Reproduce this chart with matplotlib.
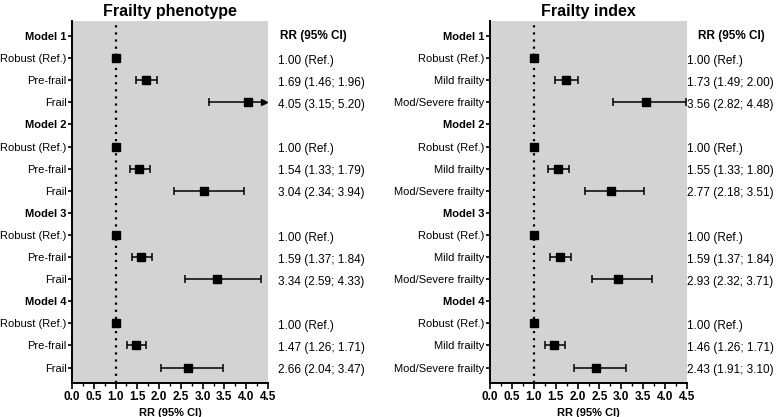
import matplotlib
matplotlib.use('Agg')
import matplotlib.pyplot as plt
import matplotlib.transforms as mtrans

plt.rcParams['font.family'] = ['Liberation Sans', 'DejaVu Sans']

# Data
models = ['Model 1', 'Model 2', 'Model 3', 'Model 4']

pheno_groups = ['Robust (Ref.)', 'Pre-frail', 'Frail']
pheno_rr = [1.00, 1.69, 4.05, 1.00, 1.54, 3.04, 1.00, 1.59, 3.34, 1.00, 1.47, 2.66]
pheno_lo = [1.00, 1.46, 3.15, 1.00, 1.33, 2.34, 1.00, 1.37, 2.59, 1.00, 1.26, 2.04]
pheno_hi = [1.00, 1.96, 5.20, 1.00, 1.79, 3.94, 1.00, 1.84, 4.33, 1.00, 1.71, 3.47]

index_groups = ['Robust (Ref.)', 'Mild frailty', 'Mod/Severe frailty']
index_rr = [1.00, 1.73, 3.56, 1.00, 1.55, 2.77, 1.00, 1.59, 2.93, 1.00, 1.46, 2.43]
index_lo = [1.00, 1.49, 2.82, 1.00, 1.33, 2.18, 1.00, 1.37, 2.32, 1.00, 1.26, 1.91]
index_hi = [1.00, 2.00, 4.48, 1.00, 1.80, 3.51, 1.00, 1.84, 3.71, 1.00, 1.71, 3.10]

x_ticks = [0.0, 0.5, 1.0, 1.5, 2.0, 2.5, 3.0, 3.5, 4.0, 4.5]
XMAX = 4.5


def draw_panel(fig, rect, title, groups, rr, lo, hi, text_x, head_x):
    ax = fig.add_axes(rect)
    ax.set_facecolor('#d3d3d3')

    # row layout: model header followed by its groups
    labels = []
    rows = []
    i = 0
    for m in models:
        labels.append(m)
        for g in groups:
            labels.append(g)
            rows.append((len(labels) - 1, i))
            i += 1

    # RR text column: figure x, data y
    trans = mtrans.blended_transform_factory(fig.transFigure, ax.transData)

    ax.axvline(1.0, color='black', linestyle=(0, (1, 2.2)), lw=1.6, zorder=1)

    for y, k in rows:
        if hi[k] > XMAX:
            # CI runs past the axis -> arrow at the edge
            ax.plot([lo[k], XMAX - 0.1], [y, y], color='black', lw=1.1, zorder=2)
            ax.plot([lo[k]], [y], marker='|', color='black', ms=6, mew=1.1, zorder=2)
            ax.plot([XMAX - 0.1], [y], marker='>', color='black', ms=5, zorder=3, clip_on=False)
        elif hi[k] > lo[k]:
            ax.errorbar(rr[k], y, xerr=[[rr[k] - lo[k]], [hi[k] - rr[k]]], fmt='none',
                        ecolor='black', elinewidth=1.1, capsize=3, capthick=1.1, zorder=2,
                        clip_on=False)
        ax.plot(rr[k], y, marker='s', color='black', ms=6, zorder=4, clip_on=False)

        if lo[k] == hi[k]:
            txt = f'{rr[k]:.2f} (Ref.)'
        else:
            txt = f'{rr[k]:.2f} ({lo[k]:.2f}; {hi[k]:.2f})'
        ax.text(text_x, y + 0.12, txt, transform=trans, fontsize=8.5, va='center')

    ax.text(head_x, 0, 'RR (95% CI)', transform=trans, fontsize=8.5, fontweight='bold',
            va='center')

    ax.set_xlim(0, XMAX)
    ax.set_ylim(15.7, -0.68)
    ax.set_xticks(x_ticks)
    ax.set_xticklabels([f'{t:.1f}' for t in x_ticks], fontweight='bold', fontsize=8.5)
    ax.set_xticks([t + 0.25 for t in x_ticks[:-1]], minor=True)
    ax.set_yticks(range(len(labels)))
    ax.set_yticklabels(labels, fontsize=8)
    for tl in ax.get_yticklabels():
        if tl.get_text().startswith('Model'):
            tl.set_fontweight('bold')
    ax.tick_params(axis='y', length=3, width=1.2, pad=1)
    ax.tick_params(axis='x', which='major', length=4, width=1.2, pad=2)
    ax.tick_params(axis='x', which='minor', length=2, width=1.0)
    for s in ['top', 'right']:
        ax.spines[s].set_visible(False)
    for s in ['left', 'bottom']:
        ax.spines[s].set_linewidth(1.4)
    ax.set_xlabel('RR (95% CI)', fontweight='bold', fontsize=8, labelpad=3)
    ax.set_title(title, fontweight='bold', fontsize=11.5, pad=4)
    return ax


def main():
    fig = plt.figure(figsize=(7.78, 4.17), dpi=100)

    draw_panel(fig, [72 / 778, 0.0815, 196 / 778, 0.868], 'Frailty phenotype',
               pheno_groups, pheno_rr, pheno_lo, pheno_hi, 278 / 778, 280 / 778)
    draw_panel(fig, [490 / 778, 0.0815, 197 / 778, 0.868], 'Frailty index',
               index_groups, index_rr, index_lo, index_hi, 687 / 778, 698 / 778)

    fig.savefig('out.png', dpi=100)


if __name__ == '__main__':
    main()
